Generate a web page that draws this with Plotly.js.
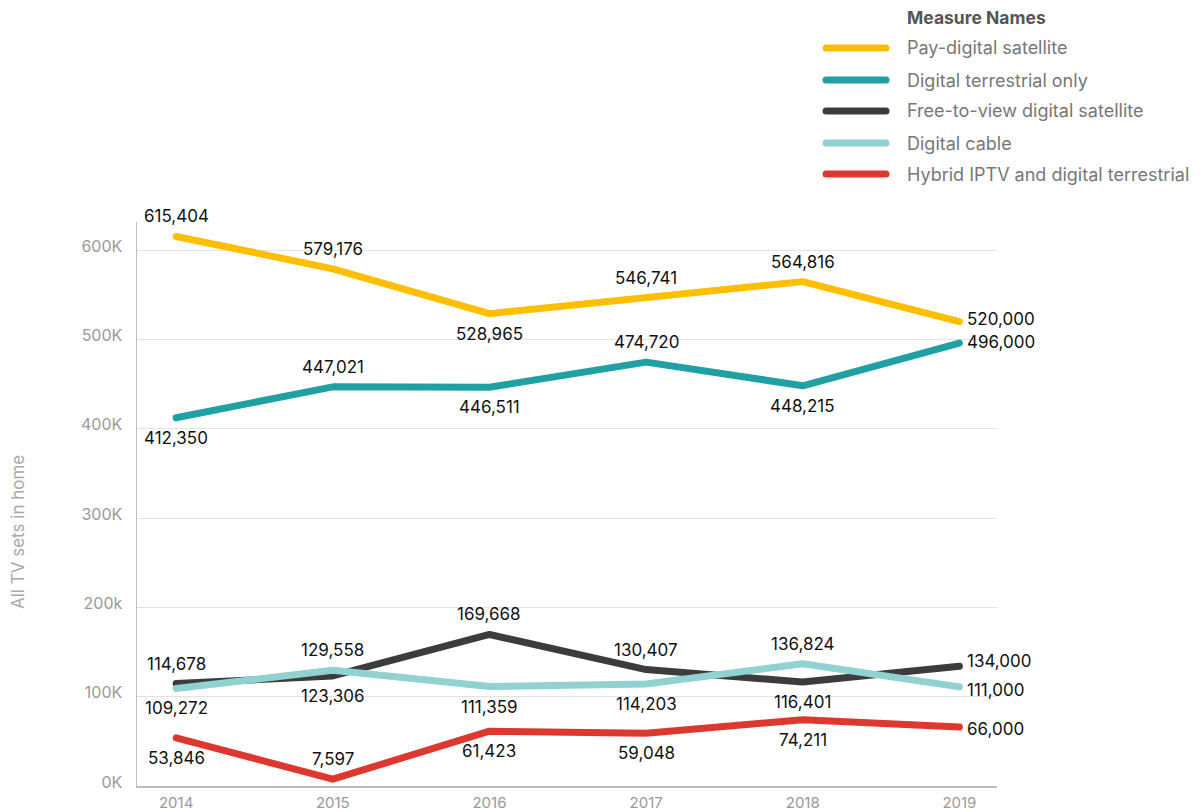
<!DOCTYPE html>
<html>
<head>
<meta charset="utf-8">
<script src="https://cdn.plot.ly/plotly-3.0.1.min.js"></script>
<style>
  html, body { margin: 0; padding: 0; background: #fff; }
  #chart { width: 1203px; height: 812px; }
  .scatterlayer path.js-line { stroke-linecap: round; stroke-linejoin: round; }
  .shapelayer path { stroke-linecap: round; }
</style>
</head>
<body>
<div id="chart"></div>
<script>
// ---- Data ----
const years = [2014, 2015, 2016, 2017, 2018, 2019];
const payDigitalSatellite = [615404, 579176, 528965, 546741, 564816, 520000];
const digitalTerrestrialOnly = [412350, 447021, 446511, 474720, 448215, 496000];
const freeToViewDigitalSatellite = [114678, 123306, 169668, 130407, 116401, 134000];
const digitalCable = [109272, 129558, 111359, 114203, 136824, 111000];
const hybridIptvTerrestrial = [53846, 7597, 61423, 59048, 74211, 66000];
const seriesNames = ['Pay-digital satellite', 'Digital terrestrial only', 'Free-to-view digital satellite', 'Digital cable', 'Hybrid IPTV and digital terrestrial'];
const yTickVals = [0, 100000, 200000, 300000, 400000, 500000, 600000];
const yTickText = ['0K', '100K', '200k', '300K', '400K', '500K', '600K'];
const legendTitle = 'Measure Names';
const yAxisTitle = 'All TV sets in home';

// ---- Styles ----
const seriesValues = [payDigitalSatellite, digitalTerrestrialOnly, freeToViewDigitalSatellite, digitalCable, hybridIptvTerrestrial];
const seriesColors = ['#FFBF00', '#21A0A3', '#3C3C3C', '#91D1D1', '#DD3730'];
// label placement per point: a = above, b = below, r = right
const labelPlacement = [
  ['a', 'a', 'b', 'a', 'a', 'r'],
  ['b', 'a', 'b', 'a', 'b', 'r'],
  ['a', 'b', 'a', 'a', 'b', 'r'],
  ['b', 'a', 'b', 'b', 'a', 'r'],
  ['b', 'a', 'b', 'b', 'b', 'r']
];
const rightShiftY = [3, 1, 5, -3, -2];
const FONT = 'Inter, "Noto Sans", "DejaVu Sans", sans-serif';

// plot area in pixels
const W = 1203, H = 812;
const plotL = 137, plotR = 997, plotT = 222, plotB = 786;
const px2paperX = p => (p - plotL) / (plotR - plotL);
const px2paperY = p => (plotB - p) / (plotB - plotT);

const traces = seriesValues.map((vals, i) => ({
  type: 'scatter',
  mode: 'lines',
  x: years,
  y: vals,
  name: seriesNames[i],
  line: { color: seriesColors[i], width: 7 },
  cliponaxis: false,
  hoverinfo: 'x+y+name'
}));

const annotations = [];
seriesValues.forEach((vals, i) => {
  vals.forEach((v, j) => {
    const pos = labelPlacement[i][j];
    const a = {
      x: years[j], y: v, xref: 'x', yref: 'y',
      text: v.toLocaleString('en-US'),
      showarrow: false,
      font: { family: FONT, size: 17, color: '#111' },
      yanchor: 'middle'
    };
    if (pos === 'a') { a.xanchor = 'center'; a.yshift = 20; }
    else if (pos === 'b') { a.xanchor = 'center'; a.yshift = -20; }
    else { a.xanchor = 'left'; a.xshift = 6; a.yshift = rightShiftY[i]; }
    annotations.push(a);
  });
});

// y-axis title
annotations.push({
  xref: 'paper', yref: 'paper',
  x: px2paperX(18), y: px2paperY(532),
  text: yAxisTitle, textangle: -90, showarrow: false,
  font: { family: FONT, size: 17, color: '#A8A8A8' },
  xanchor: 'center', yanchor: 'middle'
});

// custom legend
const legendRowsY = [48, 80, 111, 143, 174];
const shapes = [];
annotations.push({
  xref: 'paper', yref: 'paper',
  x: px2paperX(905), y: px2paperY(17),
  text: '<b>' + legendTitle + '</b>', showarrow: false,
  font: { family: FONT, size: 17.5, color: '#555' },
  xanchor: 'left', yanchor: 'middle'
});
seriesNames.forEach((n, i) => {
  shapes.push({
    type: 'line', xref: 'paper', yref: 'paper',
    x0: px2paperX(826), x1: px2paperX(886),
    y0: px2paperY(legendRowsY[i]), y1: px2paperY(legendRowsY[i]),
    line: { color: seriesColors[i], width: 7 }
  });
  annotations.push({
    xref: 'paper', yref: 'paper',
    x: px2paperX(905), y: px2paperY(legendRowsY[i]),
    text: n, showarrow: false,
    font: { family: FONT, size: 18, color: '#777' },
    xanchor: 'left', yanchor: 'middle'
  });
});

const layout = {
  width: W, height: H,
  margin: { l: plotL, r: W - plotR, t: plotT, b: H - plotB, pad: 0 },
  paper_bgcolor: '#fff', plot_bgcolor: '#fff',
  showlegend: false,
  font: { family: FONT },
  xaxis: {
    type: 'linear',
    range: [2013.75, 2019.24],
    tickvals: years,
    ticktext: years.map(String),
    showgrid: false, zeroline: false,
    showline: true, linecolor: '#BDBDBD', linewidth: 1.5,
    ticks: '', ticklabelstandoff: 2,
    tickfont: { family: FONT, size: 15, color: '#999' },
    fixedrange: true
  },
  yaxis: {
    range: [0, 631600],
    tickvals: yTickVals,
    ticktext: yTickText,
    showgrid: true, gridcolor: '#E2E2E2', gridwidth: 1,
    zeroline: false,
    showline: true, linecolor: '#BDBDBD', linewidth: 1.5,
    ticks: '', ticklabelstandoff: 10, ticklabelshift: -4,
    tickfont: { family: FONT, size: 16, color: '#999' },
    fixedrange: true
  },
  annotations: annotations,
  shapes: shapes
};

Plotly.newPlot('chart', traces, layout, { displayModeBar: false, staticPlot: true });
</script>
</body>
</html>
